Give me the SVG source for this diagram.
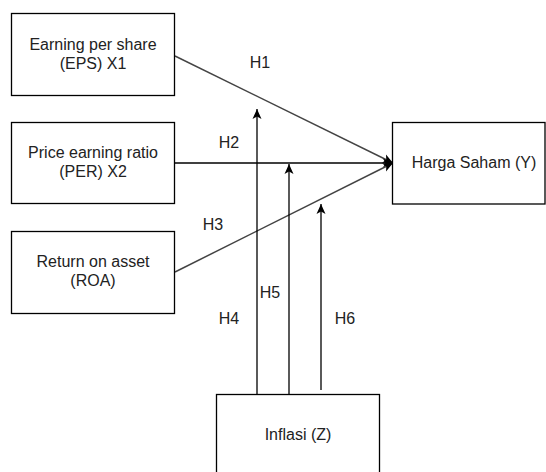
<svg xmlns="http://www.w3.org/2000/svg" width="546" height="472" viewBox="0 0 546 472">
<defs>
<style>
.box{fill:#fff;stroke:#000;stroke-width:1.3}
.t{font-family:"Liberation Sans",Arial,sans-serif;font-size:16px;fill:#222;text-anchor:middle}
.c{fill:none;stroke:#000;stroke-width:1.3}
.d{fill:none;stroke:#444;stroke-width:1.5}
</style>
<marker id="ah" viewBox="0 0 10 10" refX="10" refY="5" markerWidth="10" markerHeight="10" markerUnits="userSpaceOnUse" orient="auto">
<path d="M0,0.5 L10,5 L0,9.5 L2.5,5 Z" fill="#000"/>
</marker>
</defs>
<g id="connectors">
<line class="d" x1="175" y1="56" x2="393" y2="163" marker-end="url(#ah)"/>
<line class="c" x1="175" y1="163" x2="393" y2="163" marker-end="url(#ah)"/>
<line class="d" x1="175" y1="272" x2="393" y2="163" marker-end="url(#ah)"/>
<line class="c" x1="257" y1="394" x2="257" y2="109" marker-end="url(#ah)"/>
<line class="c" x1="289" y1="394" x2="289" y2="164" marker-end="url(#ah)"/>
<line class="c" x1="321" y1="390" x2="321" y2="204" marker-end="url(#ah)"/>
<text class="t" x="260" y="68">H1</text>
<text class="t" x="229" y="148">H2</text>
<text class="t" x="213" y="230">H3</text>
<text class="t" x="229" y="324">H4</text>
<text class="t" x="270" y="298">H5</text>
<text class="t" x="345" y="324">H6</text>
</g>
<g id="eps">
<rect class="box" x="11.5" y="13.5" width="163" height="82"/>
<text class="t" x="93" y="50">Earning per share</text>
<text class="t" x="93" y="69">(EPS) X1</text>
</g>
<g id="per">
<rect class="box" x="11.5" y="122.5" width="163" height="81"/>
<text class="t" x="93" y="158">Price earning ratio</text>
<text class="t" x="93" y="177">(PER) X2</text>
</g>
<g id="roa">
<rect class="box" x="11.5" y="231.5" width="163" height="82"/>
<text class="t" x="93" y="267">Return on asset</text>
<text class="t" x="93" y="286">(ROA)</text>
</g>
<g id="harga">
<rect class="box" x="392.5" y="122.5" width="152.5" height="81.5"/>
<text class="t" x="474" y="168">Harga Saham (Y)</text>
</g>
<g id="inflasi">
<rect class="box" x="216.5" y="394.5" width="163" height="82"/>
<text class="t" x="298" y="440">Inflasi (Z)</text>
</g>
</svg>
